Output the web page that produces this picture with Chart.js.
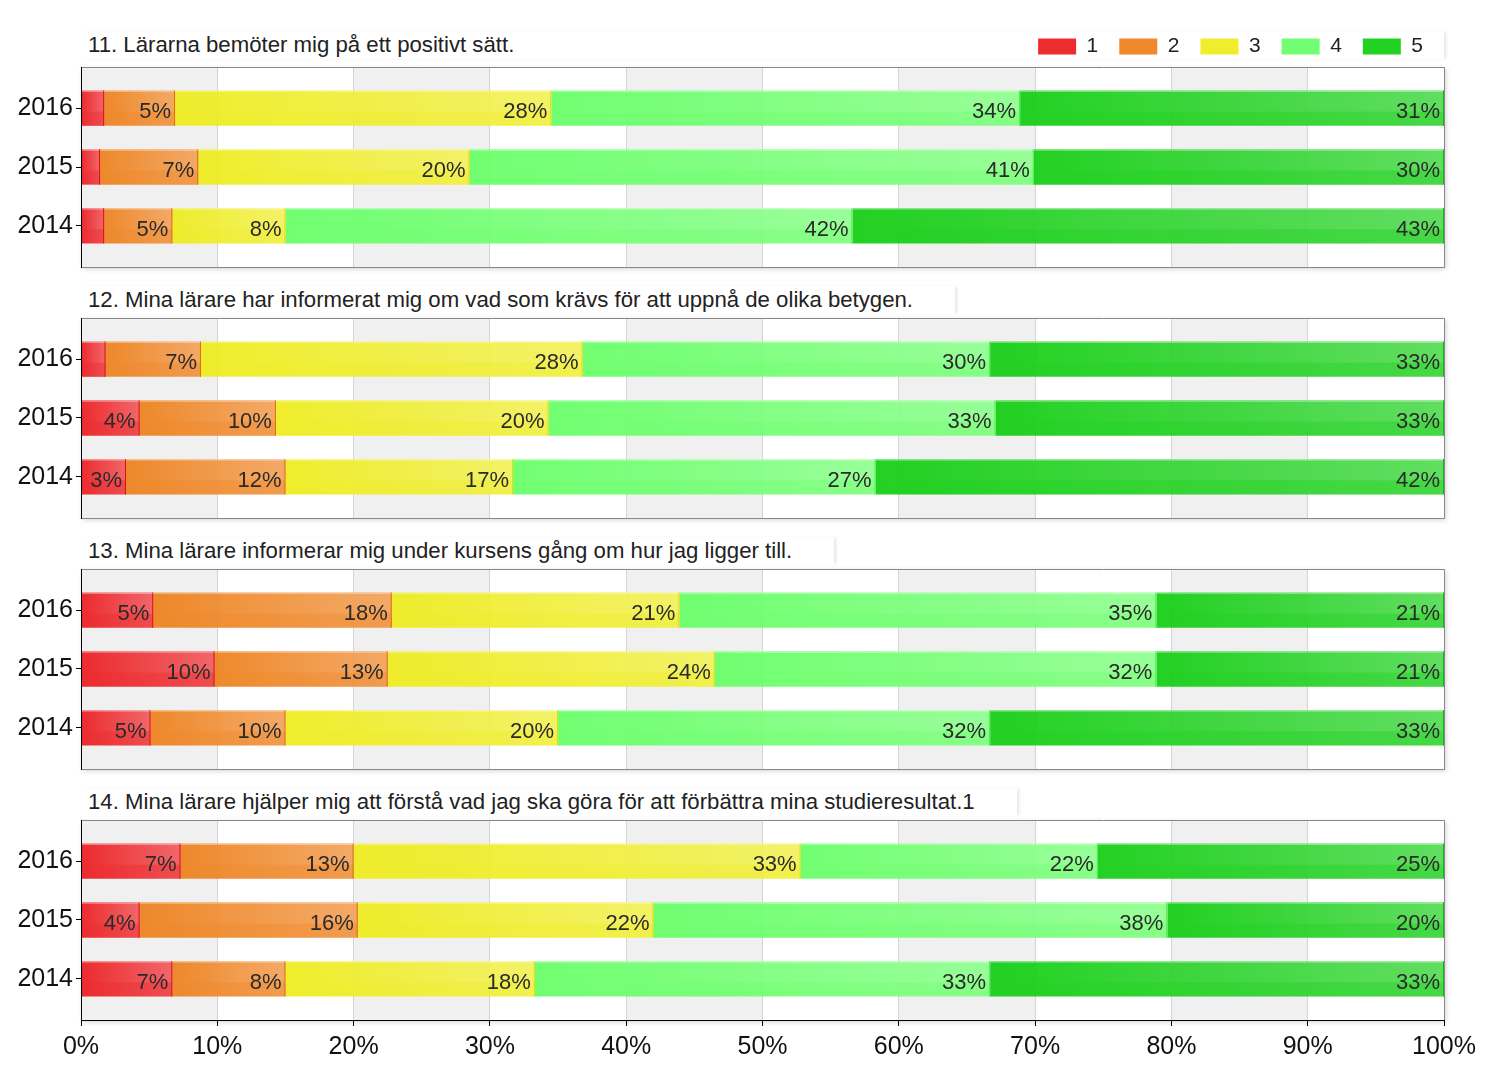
<!DOCTYPE html>
<html>
<head>
<meta charset="utf-8">
<script src="https://cdn.jsdelivr.net/npm/chart.js@4"></script>
<style>
  html, body { margin: 0; padding: 0; background: #fff; }
  #wrap { position: relative; width: 1500px; height: 1075px; overflow: hidden; font-family: "Liberation Sans", Arial, sans-serif; }
  .qtitle { position: absolute; left: 81px; height: 28px; line-height: 28px; padding: 0 42px 0 7px; font-size: 22.2px; color: #222; background: #fff; box-shadow: 3px 0 3px -1px rgba(0,0,0,0.10); white-space: nowrap; box-sizing: border-box; }
  canvas { position: absolute; left: 0; top: 0; display: block; }
</style>
</head>
<body>
<div id="wrap">
  <div class="qtitle" id="t0" style="top:31px; width:1363px;"></div>
  <div class="qtitle" id="t1" style="top:286px;"></div>
  <div class="qtitle" id="t2" style="top:537px;"></div>
  <div class="qtitle" id="t3" style="top:788px;"></div>
  <canvas id="c0" width="1500" height="300"></canvas>
  <canvas id="c1" width="1500" height="230"></canvas>
  <canvas id="c2" width="1500" height="230"></canvas>
  <canvas id="c3" width="1500" height="280"></canvas>
</div>
<script>
// rows (top to bottom) and answer levels
const years = ['2016', '2015', '2014'];
const answers = ['1', '2', '3', '4', '5'];

const titles = [
    '11. Lärarna bemöter mig på ett positivt sätt.',
    '12. Mina lärare har informerat mig om vad som krävs för att uppnå de olika betygen.',
    '13. Mina lärare informerar mig under kursens gång om hur jag ligger till.',
    '14. Mina lärare hjälper mig att förstå vad jag ska göra för att förbättra mina studieresultat.1'
];

// share of answers in percent, per year [2016, 2015, 2014]
const q11_1 = [1.7, 1.4, 1.7];
const q11_2 = [5.2, 7.2, 5.0];
const q11_3 = [27.6, 19.9, 8.3];
const q11_4 = [34.4, 41.4, 41.6];
const q11_5 = [31.1, 30.1, 43.4];

const q12_1 = [1.8, 4.3, 3.3];
const q12_2 = [7.0, 10.0, 11.7];
const q12_3 = [28.0, 20.0, 16.7];
const q12_4 = [29.9, 32.8, 26.6];
const q12_5 = [33.3, 32.9, 41.7];

const q13_1 = [5.3, 9.8, 5.1];
const q13_2 = [17.5, 12.7, 9.9];
const q13_3 = [21.1, 24.0, 20.0];
const q13_4 = [35.0, 32.4, 31.7];
const q13_5 = [21.1, 21.1, 33.3];

const q14_1 = [7.3, 4.3, 6.7];
const q14_2 = [12.7, 16.0, 8.3];
const q14_3 = [32.8, 21.7, 18.3];
const q14_4 = [21.8, 37.7, 33.4];
const q14_5 = [25.4, 20.3, 33.3];

const questions = [
    [q11_1, q11_2, q11_3, q11_4, q11_5],
    [q12_1, q12_2, q12_3, q12_4, q12_5],
    [q13_1, q13_2, q13_3, q13_4, q13_5],
    [q14_1, q14_2, q14_3, q14_4, q14_5]
];

const barColors = [
    'rgba(236, 28, 32, 0.93)',
    'rgba(238, 128, 28, 0.93)',
    'rgba(238, 236, 28, 0.93)',
    'rgba(102, 255, 102, 0.93)',
    'rgba(18, 206, 18, 0.93)'
];
const edgeColors = ['#d81010', '#e07010', '#dcdc10', '#50e850', '#10b810'];

const panelTops = [67, 318, 569, 820];
const plotHeight = 200;

Chart.defaults.font.family = '"Liberation Sans", Arial, sans-serif';

// white plot box with shadow, alternating bands
const bandsPlugin = {
    id: 'bands',
    beforeDraw(chart) {
        const ctx = chart.ctx;
        const a = chart.chartArea;
        const x = chart.scales.x;
        ctx.save();
        ctx.shadowColor = 'rgba(0,0,0,0.18)';
        ctx.shadowBlur = 5;
        ctx.shadowOffsetX = 2;
        ctx.shadowOffsetY = 2;
        ctx.fillStyle = '#fff';
        ctx.fillRect(a.left, a.top, a.width, a.height);
        ctx.restore();

        ctx.save();
        ctx.fillStyle = '#f0f0f0';
        x.ticks.forEach((t, i) => {
            if (i % 2 === 0 && i < x.ticks.length - 1) {
                const x0 = x.getPixelForValue(t.value);
                const x1 = x.getPixelForValue(x.ticks[i + 1].value);
                ctx.fillRect(x0, a.top, x1 - x0, a.height);
            }
        });
        ctx.restore();
    },
    afterDraw(chart) {
        const ctx = chart.ctx;
        const a = chart.chartArea;
        ctx.save();
        ctx.lineWidth = 1;
        ctx.strokeStyle = '#888';
        ctx.beginPath();
        ctx.moveTo(a.left, a.top + 0.5);
        ctx.lineTo(a.right + 0.5, a.top + 0.5);
        ctx.lineTo(a.right + 0.5, a.bottom);
        ctx.stroke();
        ctx.strokeStyle = '#000';
        ctx.beginPath();
        ctx.moveTo(a.left + 0.5, a.top);
        ctx.lineTo(a.left + 0.5, a.bottom);
        ctx.stroke();
        ctx.restore();
    }
};

// gloss on the bars and the percent labels
const overlayPlugin = {
    id: 'overlay',
    afterDatasetsDraw(chart) {
        const ctx = chart.ctx;
        ctx.save();
        chart.data.datasets.forEach((ds, di) => {
            const meta = chart.getDatasetMeta(di);
            meta.data.forEach((bar, i) => {
                const p = bar.getProps(['x', 'y', 'base', 'height'], true);
                const left = Math.min(p.x, p.base);
                const right = Math.max(p.x, p.base);
                const top = p.y - p.height / 2;
                const h = p.height;
                if (right - left < 1) return;

                const gh = ctx.createLinearGradient(left, 0, right, 0);
                gh.addColorStop(0, 'rgba(255,255,255,0)');
                gh.addColorStop(1, 'rgba(255,255,255,0.28)');
                ctx.fillStyle = gh;
                ctx.fillRect(left, top, right - left, h * 0.6);
                const gh2 = ctx.createLinearGradient(left, 0, right, 0);
                gh2.addColorStop(0, 'rgba(255,255,255,0)');
                gh2.addColorStop(1, 'rgba(255,255,255,0.16)');
                ctx.fillStyle = gh2;
                ctx.fillRect(left, top + h * 0.6, right - left, h * 0.4);

                ctx.fillStyle = 'rgba(255,255,255,0.35)';
                ctx.fillRect(left, top, right - left, 1.5);

                ctx.fillStyle = edgeColors[di];
                ctx.fillRect(right - 1, top, 1, h);

                const v = ds.data[i].x;
                if (v >= 2.5) {
                    ctx.fillStyle = '#2a2a2a';
                    ctx.font = '22px "Liberation Sans", Arial, sans-serif';
                    ctx.textAlign = 'right';
                    ctx.textBaseline = 'middle';
                    ctx.fillText(Math.round(v) + '%', right - 4, p.y + 4);
                }
            });
        });
        ctx.restore();
    }
};

questions.forEach((series, qi) => {
    const first = qi === 0;
    const last = qi === questions.length - 1;
    document.getElementById('t' + qi).textContent = titles[qi];
    const canvas = document.getElementById('c' + qi);

    const chart = new Chart(canvas, {
        type: 'bar',
        data: {
            datasets: series.map((vals, si) => ({
                label: answers[si],
                data: vals.map((v, yi) => ({ x: v, y: yi })),
                backgroundColor: barColors[si],
                borderColor: edgeColors[si],
                borderWidth: 0,
                stack: 'all',
                barPercentage: 0.6,
                categoryPercentage: 1
            }))
        },
        options: {
            indexAxis: 'y',
            responsive: false,
            maintainAspectRatio: false,
            animation: false,
            layout: {
                padding: { left: 10, right: 56, top: first ? 14 : 10, bottom: 8 }
            },
            plugins: {
                legend: first ? {
                    display: true,
                    position: 'top',
                    align: 'end',
                    labels: {
                        boxWidth: 38,
                        boxHeight: 16,
                        padding: 21,
                        color: '#222',
                        font: { size: 21 }
                    }
                } : { display: false },
                tooltip: { enabled: false }
            },
            scales: {
                x: {
                    type: 'linear',
                    stacked: true,
                    min: 0,
                    max: 100,
                    ticks: {
                        stepSize: 10,
                        display: last,
                        maxRotation: 0,
                        padding: 6,
                        color: '#111',
                        font: { size: 25 },
                        callback: v => v + '%'
                    },
                    grid: {
                        color: '#d4d4d4',
                        tickColor: '#000',
                        drawTicks: last,
                        tickLength: 6
                    },
                    border: { color: last ? '#000' : '#888' },
                    afterFit: s => { s.height = last ? 50 : 0; }
                },
                y: {
                    type: 'linear',
                    min: -0.7,
                    max: 2.7,
                    reverse: true,
                    offset: false,
                    afterBuildTicks: s => { s.ticks = years.map((_, i) => ({ value: i })); },
                    ticks: {
                        padding: 3,
                        color: '#111',
                        font: { size: 25 },
                        callback: v => years[v]
                    },
                    grid: {
                        offset: false,
                        drawOnChartArea: false,
                        color: '#000',
                        tickLength: 5
                    },
                    border: { color: '#000' },
                    afterFit: s => { s.width = 71; }
                }
            }
        },
        plugins: [bandsPlugin, overlayPlugin]
    });

    const diff = plotHeight - chart.chartArea.height;
    if (Math.abs(diff) > 0.5) {
        chart.resize(1500, Math.round(canvas.height + diff));
    }
    canvas.style.top = Math.round(panelTops[qi] - chart.chartArea.top) + 'px';
});
</script>
</body>
</html>
